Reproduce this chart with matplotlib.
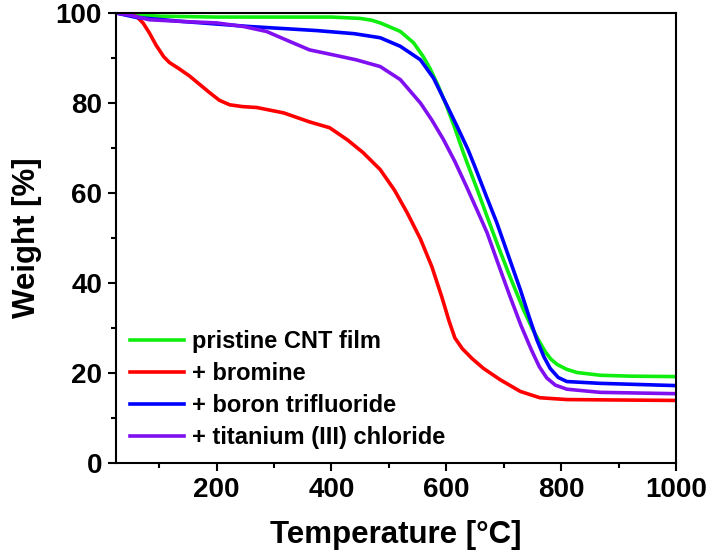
import matplotlib.pyplot as plt
from matplotlib.ticker import MultipleLocator

plt.rcParams['font.family'] = ['Liberation Sans', 'DejaVu Sans']
plt.rcParams['font.weight'] = 'bold'

# TGA curves
temp_pristine = [25, 60, 100, 200, 300, 400, 450, 470, 485, 500, 520, 543, 560, 572, 586, 601,
                 615, 628, 636, 655, 671, 690, 711, 734, 750, 762, 772, 782, 793, 810, 828,
                 868, 920, 1000]
w_pristine = [100, 99.6, 99.3, 99.1, 99.1, 99.1, 98.8, 98.4, 97.8, 97.0, 95.9, 93.4, 90.3, 87.6,
              83.8, 79.2, 74.4, 69.6, 66.8, 60.4, 54.8, 48.3, 41.4, 34.2, 29.8, 27.0, 24.8,
              23.1, 21.9, 20.8, 20.1, 19.5, 19.3, 19.2]

temp_br = [25, 45, 61, 72, 83, 95, 108, 118, 135, 153, 170, 188, 205, 223, 245, 270, 317, 362,
           397, 428, 455, 485, 510, 532, 555, 575, 592, 605, 615, 628, 645, 665, 694, 729,
           763, 810, 900, 1000]
w_br = [100, 99.8, 99.2, 97.8, 95.6, 92.8, 90.3, 89.0, 87.6, 86.0, 84.2, 82.3, 80.6, 79.6, 79.2,
        79.0, 77.8, 75.8, 74.5, 71.8, 69.0, 65.2, 60.6, 55.6, 49.8, 43.6, 37.0, 31.5, 27.8,
        25.4, 23.2, 21.0, 18.5, 15.9, 14.5, 14.1, 14.0, 13.9]

temp_bf3 = [25, 61, 143, 257, 374, 440, 485, 520, 555, 578, 601, 620, 638, 650, 670, 688, 710,
            729, 745, 758, 770, 781, 795, 810, 868, 1000]
w_bf3 = [100, 99.0, 98.1, 97.0, 96.1, 95.4, 94.5, 92.6, 89.6, 85.5, 79.5, 74.5, 69.6, 65.8,
         59.2, 53.4, 45.4, 38.5, 32.2, 27.3, 23.6, 21.0, 19.0, 18.1, 17.7, 17.2]

temp_ticl = [25, 50, 83, 143, 200, 247, 287, 327, 362, 403, 443, 485, 520, 555, 575, 595,
             615, 635, 655, 671, 690, 711, 730, 748, 762, 775, 790, 810, 868, 1000]
w_ticl = [100, 99.5, 98.5, 98.1, 97.8, 97.0, 95.9, 93.7, 91.8, 90.7, 89.6, 88.1, 85.2, 80.0,
          76.2, 71.9, 67.0, 61.5, 55.8, 51.2, 44.4, 37.0, 30.6, 25.2, 21.4, 18.9, 17.3, 16.4,
          15.7, 15.4]

labels = ['pristine CNT film', '+ bromine', '+ boron trifluoride', '+ titanium (III) chloride']
colors = ['#10ee10', '#ff0000', '#0000ff', '#8010f0']

fig = plt.figure(figsize=(7.08, 5.57), dpi=100)
ax = fig.add_axes([116 / 708, 1 - 463 / 557, 560 / 708, 450 / 557])

series = [(temp_pristine, w_pristine), (temp_br, w_br), (temp_bf3, w_bf3), (temp_ticl, w_ticl)]
for (t, w), lab, c in zip(series, labels, colors):
    ax.plot(t, w, color=c, lw=2.6, label=lab, solid_joinstyle='round')

ax.set_xlim(25, 1000)
ax.set_ylim(0, 100)
ax.xaxis.set_major_locator(MultipleLocator(200))
ax.xaxis.set_minor_locator(MultipleLocator(100))
ax.yaxis.set_major_locator(MultipleLocator(20))
ax.yaxis.set_minor_locator(MultipleLocator(10))

for s in ax.spines.values():
    s.set_linewidth(1.5)
ax.tick_params(which='major', direction='out', length=6, width=1.5, labelsize=20, pad=4)
ax.tick_params(which='minor', direction='out', length=3.5, width=1.5)

ax.set_xlabel('Temperature [°C]', fontsize=22.5, fontweight='bold', labelpad=12)
ax.set_ylabel('Weight [%]', fontsize=22.5, fontweight='bold', labelpad=10)

leg = ax.legend(loc='lower left', frameon=False, fontsize=17, handlelength=2.3,
                handletextpad=0.3, labelspacing=0.38, borderaxespad=0.2,
                bbox_to_anchor=(0.0, 0.0))
for txt in leg.get_texts():
    txt.set_fontweight('bold')

fig.savefig('out.png', dpi=100)
